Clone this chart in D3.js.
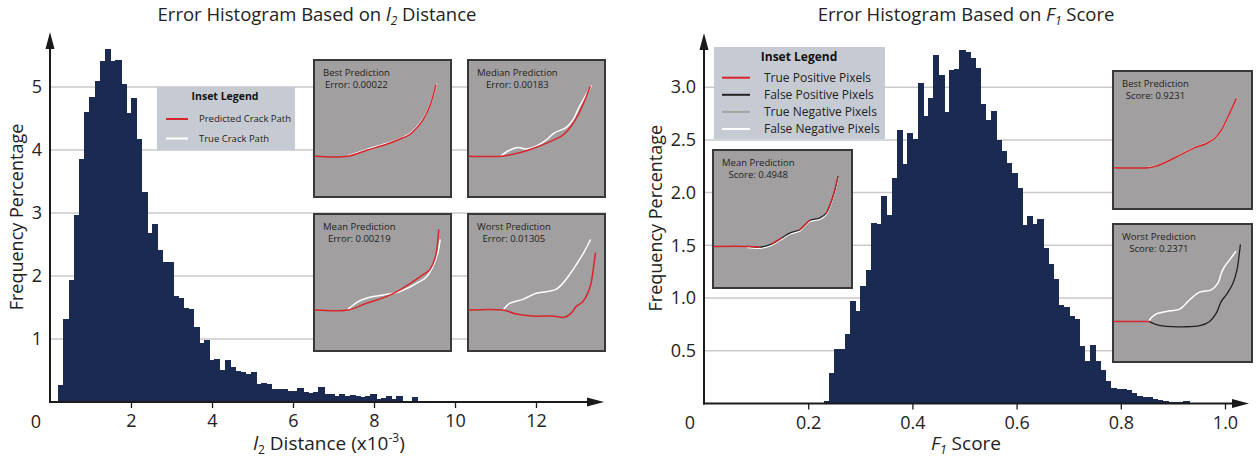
<!DOCTYPE html>
<html><head><meta charset="utf-8">
<script src="https://cdn.jsdelivr.net/npm/d3@7"></script>
<style>
body{margin:0;background:#fff;}
svg{display:block;font-family:"Open Sans",sans-serif;}
</style></head>
<body><svg id="c" width="1257" height="459"></svg>
<script>
// ---------------- DATA ----------------
// Left: l2 distance histogram (x10^-3), bin start / width
const l2BinStart = 0.2;
const l2BinWidth = 0.1285;
const l2Freq = [0.27,1.32,1.94,2.97,3.85,4.60,4.84,5.09,5.41,5.61,5.41,5.43,5.04,4.58,4.82,4.18,3.34,2.69,2.83,2.41,
  2.23,2.23,1.69,1.65,1.50,1.47,1.19,0.93,0.99,0.66,0.69,0.51,0.67,0.56,0.49,0.47,0.45,0.47,0.29,0.30,
  0.28,0.21,0.20,0.21,0.18,0.18,0.23,0.16,0.15,0.16,0.24,0.12,0.13,0.10,0.13,0.09,0.11,0.10,0.08,0.09,
  0.13,0.05,0.06,0.10,0.04,0.10,0.02,0.02,0.08,0.02,0.01,0.01,0.01,0.02,0.005,0.02,0.01];
const l2XTicks = [2,4,6,8,10,12];
const l2YTicks = [1,2,3,4,5];

// Right: F1 score histogram
const f1BinStart = 0.23;
const f1BinWidth = 0.01;
const f1Freq = [0.02,0.285,0.52,0.52,0.655,0.97,0.88,1.11,1.27,1.71,1.70,1.97,1.79,2.14,2.59,2.27,2.57,2.51,3.04,2.73,
  2.90,3.31,3.12,2.76,3.16,3.17,3.35,3.33,3.28,3.18,2.84,2.69,2.77,2.50,2.39,2.28,2.19,2.04,1.69,1.78,
  1.70,1.75,1.47,1.32,1.18,0.93,0.91,0.83,0.80,0.545,0.405,0.55,0.405,0.32,0.215,0.15,0.14,0.14,0.13,0.10,
  0.07,0.06,0.06,0.04,0.03,0.02,0.015,0.01,0.01,0.02,0.005,0.005];
const f1XTicks = [0.2,0.4,0.6,0.8,1.0];
const f1YTicks = [0.5,1.0,1.5,2.0,2.5,3.0];

// Legends
const l2Legend = [{label:"Predicted Crack Path", color:"#d7262c"},{label:"True Crack Path", color:"#ffffff"}];
const f1Legend = [{label:"True Positive Pixels", color:"#d7262c"},{label:"False Positive Pixels", color:"#222222"},
  {label:"True Negative Pixels", color:"#a3a3a3"},{label:"False Negative Pixels", color:"#ffffff"}];

// Inset curves, normalized [u, v] (v up)
const l2BestPred = [[0.007,0.298],[0.249,0.298],[0.383,0.341],[0.528,0.385],[0.625,0.422],[0.697,0.456],[0.746,0.5],[0.794,0.561],[0.843,0.659],[0.891,0.817]];
const l2BestTrue = [[0.249,0.302],[0.383,0.346],[0.528,0.39],[0.625,0.424],[0.697,0.461],[0.746,0.505],[0.794,0.566],[0.843,0.663],[0.896,0.824]];
const l2MedPred = [[0.007,0.298],[0.243,0.298],[0.352,0.317],[0.473,0.354],[0.595,0.402],[0.692,0.451],[0.74,0.5],[0.789,0.573],[0.837,0.671],[0.891,0.805]];
const l2MedTrue = [[0.243,0.302],[0.303,0.341],[0.364,0.361],[0.425,0.351],[0.498,0.371],[0.570,0.415],[0.631,0.468],[0.716,0.507],[0.765,0.561],[0.813,0.659],[0.898,0.81]];
const l2MeanPred = [[0.007,0.299],[0.249,0.299],[0.383,0.348],[0.528,0.397],[0.625,0.445],[0.722,0.506],[0.794,0.555],[0.843,0.591],[0.879,0.664],[0.896,0.737],[0.91,0.883]];
const l2MeanTrue = [[0.249,0.304],[0.322,0.36],[0.407,0.392],[0.504,0.409],[0.600,0.426],[0.697,0.465],[0.770,0.506],[0.818,0.538],[0.867,0.616],[0.903,0.713],[0.92,0.81]];
const l2WorstPred = [[0.007,0.299],[0.255,0.299],[0.352,0.270],[0.473,0.255],[0.619,0.255],[0.704,0.246],[0.752,0.275],[0.789,0.324],[0.837,0.36],[0.874,0.421],[0.898,0.494],[0.910,0.567],[0.930,0.713]];
const l2WorstTrue = [[0.260,0.304],[0.303,0.348],[0.400,0.377],[0.498,0.421],[0.570,0.433],[0.643,0.45],[0.692,0.494],[0.740,0.555],[0.789,0.628],[0.842,0.713],[0.893,0.81]];

const f1MeanPath = [[0.005,0.301],[0.252,0.301],[0.336,0.296],[0.42,0.318],[0.492,0.361],[0.552,0.398],[0.624,0.422],[0.695,0.489],[0.767,0.506],[0.815,0.542],[0.863,0.663],[0.899,0.807]];
const f1BestPath = [[0.005,0.299],[0.252,0.299],[0.312,0.311],[0.384,0.342],[0.480,0.39],[0.576,0.439],[0.671,0.475],[0.731,0.511],[0.779,0.571],[0.827,0.667],[0.887,0.8]];
const f1WorstTP = [[0.005,0.294],[0.259,0.294]];
const f1WorstFP = [[0.259,0.294],[0.312,0.27],[0.384,0.258],[0.504,0.255],[0.624,0.263],[0.695,0.294],[0.743,0.354],[0.779,0.439],[0.815,0.487],[0.863,0.571],[0.892,0.667],[0.906,0.764],[0.916,0.848]];
const f1WorstFN = [[0.259,0.299],[0.3,0.342],[0.384,0.366],[0.480,0.383],[0.552,0.451],[0.624,0.506],[0.707,0.523],[0.755,0.571],[0.779,0.643],[0.803,0.692],[0.839,0.740],[0.882,0.8]];

// ---------------- DRAW ----------------
const svg = d3.select("#c");
const BAR = "#1b2a51", GRID = "#c9c9c9", AXIS = "#1a1a1a", RED = "#d7262c", INSET = "#a19f9f";

function histogram(cfg){
  const g = svg.append("g");
  const x = d3.scaleLinear().domain(cfg.xDomain).range(cfg.xRange);
  const y = d3.scaleLinear().domain(cfg.yDomain).range(cfg.yRange);
  // grid
  g.selectAll(".grid").data(cfg.yTicks).join("line")
    .attr("x1", x(0)).attr("x2", cfg.gridEnd)
    .attr("y1", d=>y(d)).attr("y2", d=>y(d))
    .attr("stroke", GRID).attr("stroke-width", 1.5);
  // bars
  g.selectAll(".bar").data(cfg.values).join("rect")
    .attr("x", (d,i)=>x(cfg.binStart + i*cfg.binWidth))
    .attr("width", (d,i)=>x(cfg.binStart + (i+1)*cfg.binWidth) - x(cfg.binStart + i*cfg.binWidth) + 1)
    .attr("y", d=>y(d)).attr("height", d=>y(0)-y(d))
    .attr("fill", BAR).attr("shape-rendering","crispEdges");
  // x axis
  const ax = g.append("g").attr("transform", `translate(0,${y(0)})`)
    .call(d3.axisBottom(x).tickValues(cfg.xTicks).tickSize(6).tickFormat(cfg.xFmt));
  ax.select(".domain").remove();
  ax.selectAll(".tick line").attr("stroke", AXIS).attr("stroke-width", 1.3);
  ax.selectAll(".tick text").attr("font-size", 18).attr("fill", "#222").attr("dy", "0.9em")
    .attr("font-family", "Open Sans");
  g.append("text").attr("x", x(0) - 14).attr("y", y(0) + 26).attr("text-anchor","middle")
    .attr("font-size", 18).attr("fill","#222").text("0");
  // y axis labels
  const ay = g.append("g").attr("transform", `translate(${x(0)},0)`)
    .call(d3.axisLeft(y).tickValues(cfg.yTicks).tickSize(0).tickPadding(8).tickFormat(cfg.yFmt));
  ay.select(".domain").remove();
  ay.selectAll(".tick text").attr("font-size", 18).attr("fill", "#222").attr("font-family", "Open Sans");
  // axis lines with arrows
  g.append("line").attr("x1", x(0)-1).attr("x2", cfg.xArrowTip - 14).attr("y1", y(0)).attr("y2", y(0))
    .attr("stroke", AXIS).attr("stroke-width", 2);
  g.append("path").attr("d", `M${cfg.xArrowTip},${y(0)} L${cfg.xArrowTip-17},${y(0)-4.5} L${cfg.xArrowTip-17},${y(0)+4.5}Z`).attr("fill", AXIS);
  g.append("line").attr("x1", x(0)).attr("x2", x(0)).attr("y1", y(0)+1).attr("y2", cfg.yArrowTip + 14)
    .attr("stroke", AXIS).attr("stroke-width", 2);
  g.append("path").attr("d", `M${x(0)},${cfg.yArrowTip} L${x(0)-4.5},${cfg.yArrowTip+17} L${x(0)+4.5},${cfg.yArrowTip+17}Z`).attr("fill", AXIS);
  // y title
  g.append("text").attr("transform", `translate(${cfg.yTitleX},${(y(0)+cfg.yArrowTip)/2 + 0}) rotate(-90)`)
    .attr("text-anchor","middle").attr("font-size", 18).attr("fill","#222").text("Frequency Percentage");
  return {g, x, y};
}

function insetBox(bx, by, w, h, title, sub, curves){
  const g = svg.append("g");
  g.append("rect").attr("x", bx).attr("y", by).attr("width", w).attr("height", h)
    .attr("fill", INSET).attr("stroke", "#383838").attr("stroke-width", 2);
  const t1 = g.append("text").attr("x", bx+9).attr("y", by+16).attr("font-size", 9.5).attr("fill","#222")
    .attr("font-family","Open Sans").text(title);
  const tw = t1.node().getComputedTextLength();
  g.append("text").attr("x", bx+9+tw/2).attr("y", by+28).attr("text-anchor","middle").attr("font-size", 9.5)
    .attr("fill","#222").attr("font-family","Open Sans").text(sub);
  const sx = d3.scaleLinear().domain([0,1]).range([bx, bx+w]);
  const sy = d3.scaleLinear().domain([0,1]).range([by+h, by]);
  const line = d3.line().x(d=>sx(d[0])).y(d=>sy(d[1])).curve(d3.curveCatmullRom);
  curves.forEach(c=>{
    g.append("path").attr("d", line(c.pts)).attr("fill","none").attr("stroke", c.color)
      .attr("stroke-width", c.w||1.5).attr("stroke-linecap","round");
  });
}

function legendBox(bx, by, w, h, items, titleSize, itemSize, lineX1, lineX2, textX, titleY, rowY0, rowStep, titleX){
  const g = svg.append("g");
  g.append("rect").attr("x", bx).attr("y", by).attr("width", w).attr("height", h).attr("fill", "#c6cbd3");
  g.append("text").attr("x", titleX).attr("y", titleY).attr("text-anchor", "middle").attr("font-weight","bold")
    .attr("font-size", titleSize).attr("fill","#111").text("Inset Legend");
  items.forEach((it,i)=>{
    const yy = rowY0 + i*rowStep;
    g.append("line").attr("x1", lineX1).attr("x2", lineX2).attr("y1", yy).attr("y2", yy)
      .attr("stroke", it.color).attr("stroke-width", 2);
    g.append("text").attr("x", textX).attr("y", yy).attr("dy","0.35em").attr("font-size", itemSize)
      .attr("fill","#222").text(it.label);
  });
}

// Left chart
const L = histogram({
  xDomain:[0,12], xRange:[50,536], yDomain:[0,5], yRange:[402,87],
  binStart:l2BinStart, binWidth:l2BinWidth, values:l2Freq,
  xTicks:l2XTicks, yTicks:l2YTicks, xFmt:d3.format("d"), yFmt:d3.format("d"),
  gridEnd:606, xArrowTip:604, yArrowTip:32, yTitleX:23
});
// Right chart
const R = histogram({
  xDomain:[0,1], xRange:[704,1225], yDomain:[0,3], yRange:[403.4,87.2],
  binStart:f1BinStart, binWidth:f1BinWidth, values:f1Freq,
  xTicks:f1XTicks, yTicks:f1YTicks, xFmt:d3.format(".1f"), yFmt:d3.format(".1f"),
  gridEnd:1250, xArrowTip:1249, yArrowTip:33, yTitleX:662
});

// Titles
function title(cx, parts){
  const t = svg.append("text").attr("x", cx).attr("y", 21).attr("text-anchor","middle")
    .attr("font-size", 18.5).attr("fill","#222");
  parts.forEach(p=>{
    const s = t.append("tspan").text(p.t);
    if(p.i) s.attr("font-style","italic");
    if(p.sub) s.attr("font-size", 12).attr("dy", 4);
    if(p.back) s.attr("dy", -4);
  });
}
title(317, [{t:"Error Histogram Based on "},{t:"l",i:true},{t:"2",i:true,sub:true},{t:" Distance",back:true}]);
title(966, [{t:"Error Histogram Based on "},{t:"F",i:true},{t:"1",i:true,sub:true},{t:" Score",back:true}]);

// X titles
(function(){
  const t = svg.append("text").attr("x", 329).attr("y", 450).attr("text-anchor","middle").attr("font-size", 19).attr("fill","#222");
  t.append("tspan").attr("font-style","italic").text("l");
  t.append("tspan").attr("font-size", 12).attr("dy", 4).text("2");
  t.append("tspan").attr("dy", -4).text(" Distance (x10");
  t.append("tspan").attr("font-size", 12).attr("dy", -8).text("-3");
  t.append("tspan").attr("dy", 8).text(")");
  const t2 = svg.append("text").attr("x", 966).attr("y", 450).attr("text-anchor","middle").attr("font-size", 19).attr("fill","#222");
  t2.append("tspan").attr("font-style","italic").text("F");
  t2.append("tspan").attr("font-style","italic").attr("font-size", 12).attr("dy", 4).text("1");
  t2.append("tspan").attr("dy", -4).text(" Score");
})();

// Legends
legendBox(157, 87, 138, 63, l2Legend, 10.5, 9.5, 166, 188, 199, 100, 119, 19.5, 225);
legendBox(714, 47, 171, 92, f1Legend, 12, 12, 722, 750, 764, 61, 77.7, 17.1, 799);

// Left insets
insetBox(314, 60, 137, 137, "Best Prediction", "Error: 0.00022", [
  {pts:l2BestTrue, color:"#fff"}, {pts:l2BestPred, color:RED}]);
insetBox(468, 60, 137, 137, "Median Prediction", "Error: 0.00183", [
  {pts:l2MedTrue, color:"#fff"}, {pts:l2MedPred, color:RED}]);
insetBox(314, 214, 137, 137, "Mean Prediction", "Error: 0.00219", [
  {pts:l2MeanTrue, color:"#fff"}, {pts:l2MeanPred, color:RED}]);
insetBox(468, 214, 137, 137, "Worst Prediction", "Error: 0.01305", [
  {pts:l2WorstTrue, color:"#fff"}, {pts:l2WorstPred, color:RED}]);

// Right insets
insetBox(713, 150, 139, 138, "Mean Prediction", "Score: 0.4948", [
  {pts:f1MeanPath.slice(1).map(d=>[d[0], d[1]-0.008]), color:"#fff"},
  {pts:f1MeanPath.slice(1), color:"#222", w:1.3},
  {pts:f1MeanPath.slice(0,3), color:RED},
  {pts:f1MeanPath.slice(3,5), color:RED, w:1.3},
  {pts:f1MeanPath.slice(6,8), color:RED, w:1.3},
  {pts:f1MeanPath.slice(9,12), color:RED, w:1.2}]);
insetBox(1113, 71, 139, 138, "Best Prediction", "Score: 0.9231", [
  {pts:f1BestPath.slice(1).map(d=>[d[0]+0.003, d[1]+0.004]), color:"#fff", w:1.2},
  {pts:f1BestPath, color:RED}]);
insetBox(1113, 224, 139, 138, "Worst Prediction", "Score: 0.2371", [
  {pts:f1WorstFN, color:"#fff"}, {pts:f1WorstFP, color:"#222", w:1.3}, {pts:f1WorstTP, color:RED}]);
</script>
</body></html>
